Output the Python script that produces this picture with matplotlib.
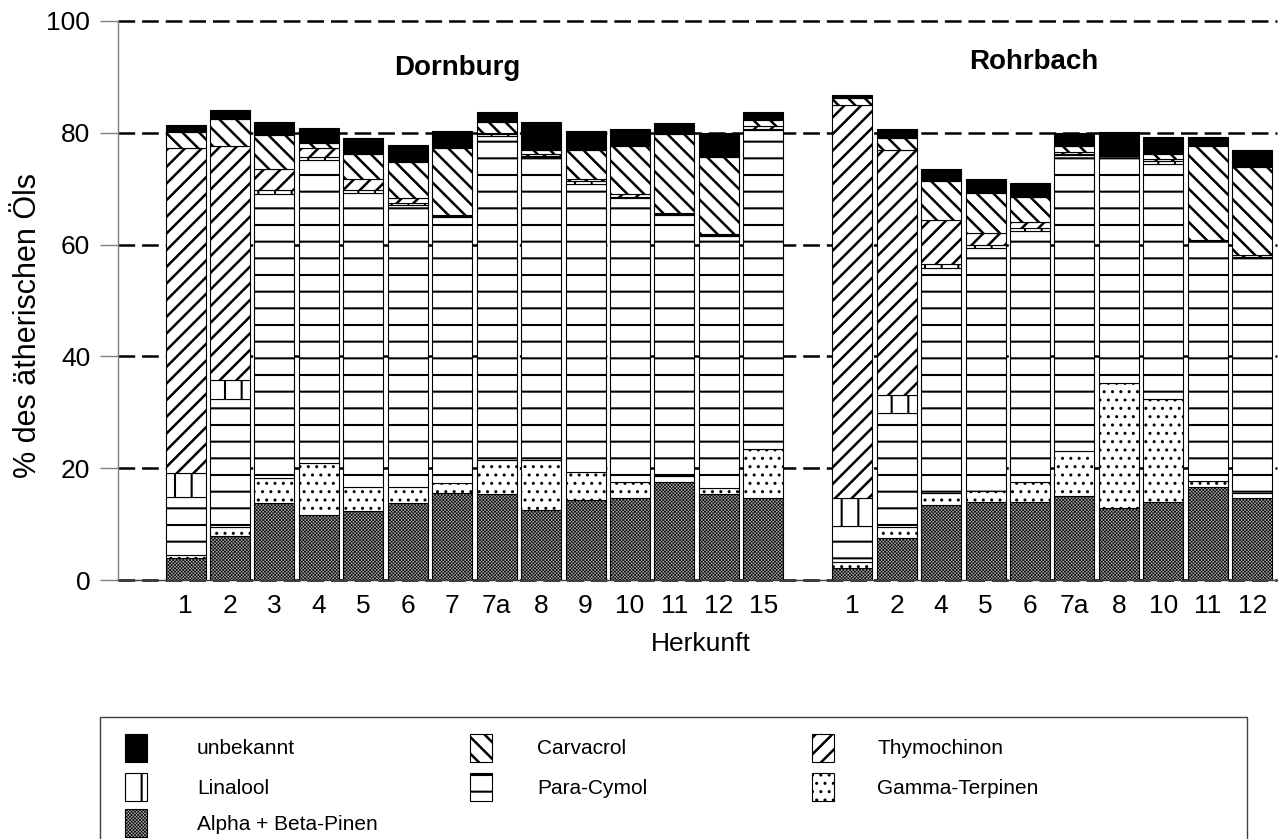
import numpy as np
import matplotlib
matplotlib.use('Agg')
import matplotlib.pyplot as plt
import matplotlib.patches as mpatches

plt.rcParams['font.family'] = ['Liberation Sans', 'DejaVu Sans']
plt.rcParams['lines.scale_dashes'] = False

# ---------------- data ----------------
dornburg_labels = ['1', '2', '3', '4', '5', '6', '7', '7a', '8', '9', '10', '11', '12', '15']
rohrbach_labels = ['1', '2', '4', '5', '6', '7a', '8', '10', '11', '12']

# stack order bottom -> top
series_names = ['Alpha + Beta-Pinen', 'Gamma-Terpinen', 'Para-Cymol', 'Linalool',
                'Thymochinon', 'Carvacrol', 'unbekannt']

pinen_d   = [3.9, 7.9, 13.7, 11.6, 12.4, 13.7, 15.5, 15.3, 12.6, 14.3, 14.6, 17.5, 15.3, 14.7]
gamma_d   = [0.6, 1.6, 4.5, 9.4, 4.3, 3.0, 1.8, 6.2, 8.9, 5.1, 2.9, 1.1, 1.1, 8.7]
cymol_d   = [10.4, 22.8, 50.8, 54.1, 52.6, 50.4, 47.6, 58.0, 54.1, 51.4, 50.8, 46.7, 45.2, 57.1]
linalool_d = [4.2, 3.5, 0.8, 0.6, 0.5, 0.4, 0.2, 0.2, 0.2, 0.5, 0.3, 0.1, 0.1, 0.2]
thymo_d   = [58.1, 41.9, 3.8, 1.5, 1.9, 0.8, 0.2, 0.3, 0.4, 0.4, 0.4, 0.2, 0.2, 0.5]
carva_d   = [3.0, 4.8, 6.0, 0.9, 4.5, 6.5, 11.9, 1.9, 0.8, 5.2, 8.6, 14.2, 13.7, 1.1]
unbek_d   = [1.2, 1.5, 2.4, 2.8, 2.8, 3.0, 3.2, 1.9, 5.0, 3.4, 3.0, 2.0, 4.3, 1.4]

pinen_r   = [2.2, 7.5, 13.4, 14.0, 13.9, 15.0, 12.9, 14.0, 16.7, 14.7]
gamma_r   = [1.1, 2.0, 2.1, 1.9, 3.7, 8.0, 22.3, 18.4, 1.0, 0.8]
cymol_r   = [6.4, 20.3, 40.4, 43.5, 44.9, 53.0, 40.6, 42.1, 43.0, 42.2]
linalool_r = [4.9, 3.3, 0.7, 0.6, 0.4, 0.2, 0.0, 0.4, 0.0, 0.1]
thymo_r   = [70.4, 43.8, 7.8, 2.1, 1.2, 0.4, 0.0, 0.4, 0.1, 0.3]
carva_r   = [1.2, 2.1, 7.0, 7.1, 4.4, 1.0, 0.0, 0.9, 16.8, 15.7]
unbek_r   = [0.6, 1.6, 2.2, 2.5, 2.6, 2.3, 4.3, 3.0, 1.7, 3.2]

values_d = [pinen_d, gamma_d, cymol_d, linalool_d, thymo_d, carva_d, unbek_d]
values_r = [pinen_r, gamma_r, cymol_r, linalool_r, thymo_r, carva_r, unbek_r]

# ---------------- styles ----------------
styles = {
    'Alpha + Beta-Pinen': dict(fc='#a6a6a6', hatch='xxxxxxxxxx', hlw=0.45),
    'Gamma-Terpinen':     dict(fc='white', hatch='..', hlw=1.0),
    'Para-Cymol':         dict(fc='white', hatch='-', hlw=1.5),
    'Linalool':           dict(fc='white', hatch='|', hlw=1.5),
    'Thymochinon':        dict(fc='white', hatch='//', hlw=1.8),
    'Carvacrol':          dict(fc='white', hatch='\\\\', hlw=1.8),
    'unbekannt':          dict(fc='black', hatch=None, hlw=1.0),
}

W, H = 1280, 839
fig = plt.figure(figsize=(W / 100, H / 100), dpi=100)
ax = fig.add_axes([118 / W, 1 - 580 / H, (1277 - 118) / W, (580 - 21) / H])

x_d = np.arange(len(dornburg_labels))
x_r = np.arange(len(rohrbach_labels)) + len(dornburg_labels) + 1
x_all = np.concatenate([x_d, x_r])
vals_all = [np.array(a + b, dtype=float) for a, b in zip(values_d, values_r)]

bottom = np.zeros(len(x_all))
for name, vals in zip(series_names, vals_all):
    st = styles[name]
    with plt.rc_context({'hatch.linewidth': st['hlw']}):
        bars = ax.bar(x_all, vals, width=0.9, bottom=bottom, color=st['fc'],
                      edgecolor='black', linewidth=0.8, hatch=st['hatch'],
                      label=name, zorder=2)
    for b in bars:
        if hasattr(b, 'set_hatch_linewidth'):
            b.set_hatch_linewidth(st['hlw'])
    bottom = bottom + vals

ax.set_xlim(-1.519, 24.556)
ax.set_ylim(0, 100)
ax.set_yticks([0, 20, 40, 60, 80, 100])
ax.set_xticks(x_all)
ax.set_xticklabels(dornburg_labels + rohrbach_labels)

ax.yaxis.grid(True, color='black', linestyle=(0, (12, 5)), linewidth=1.8)
for gl in ax.get_ygridlines():
    gl.set_clip_on(False)
ax.set_axisbelow(True)

for s in ['top', 'right']:
    ax.spines[s].set_visible(False)
ax.spines['left'].set_color('#808080')
ax.spines['left'].set_linewidth(1.0)
ax.spines['bottom'].set_color('#404040')
ax.spines['bottom'].set_linewidth(1.0)

ax.tick_params(axis='y', direction='out', length=13, width=1, color='#808080',
               pad=7, labelsize=19)
ax.tick_params(axis='x', length=0, pad=10, labelsize=19)

ax.set_ylabel('% des ätherischen Öls', fontsize=22, va='center')
ax.yaxis.set_label_coords(-0.0777, 0.456)
ax.set_xlabel('Herkunft', fontsize=19, va='baseline')
ax.xaxis.set_label_coords(0.503, -0.127)

ax.text(6.12, 90.3, 'Dornburg', ha='center', va='baseline', fontsize=20, fontweight='bold')
ax.text(19.09, 91.5, 'Rohrbach', ha='center', va='baseline', fontsize=20, fontweight='bold')

# ---------------- legend (Excel-like, fixed column grid) ----------------
def fx(px):
    return px / W

def fy(py):
    return 1 - py / H

frame = mpatches.Rectangle((fx(100), fy(845)), fx(1247) - fx(100), fy(717) - fy(845),
                           transform=fig.transFigure, facecolor='white',
                           edgecolor='#404040', linewidth=1.0, zorder=1)
fig.patches.append(frame)

legend_order = ['unbekannt', 'Carvacrol', 'Thymochinon',
                'Linalool', 'Para-Cymol', 'Gamma-Terpinen',
                'Alpha + Beta-Pinen']
col_patch_x = [125, 470, 812]
col_text_x = [197, 537, 877]
row_center_y = [748, 787, 823]
pw, ph = 22, 28
for i, name in enumerate(legend_order):
    r, c = divmod(i, 3)
    st = styles[name]
    cy = row_center_y[r]
    with plt.rc_context({'hatch.linewidth': st['hlw']}):
        p = mpatches.Rectangle((fx(col_patch_x[c]), fy(cy + ph / 2)), pw / W, ph / H,
                               transform=fig.transFigure, facecolor=st['fc'],
                               edgecolor='black', linewidth=0.8, hatch=st['hatch'],
                               zorder=2)
    if hasattr(p, 'set_hatch_linewidth'):
        p.set_hatch_linewidth(st['hlw'])
    fig.patches.append(p)
    fig.text(fx(col_text_x[c]), fy(cy + 1), name, ha='left', va='center', fontsize=15)

fig.savefig('out.png', dpi=100)
